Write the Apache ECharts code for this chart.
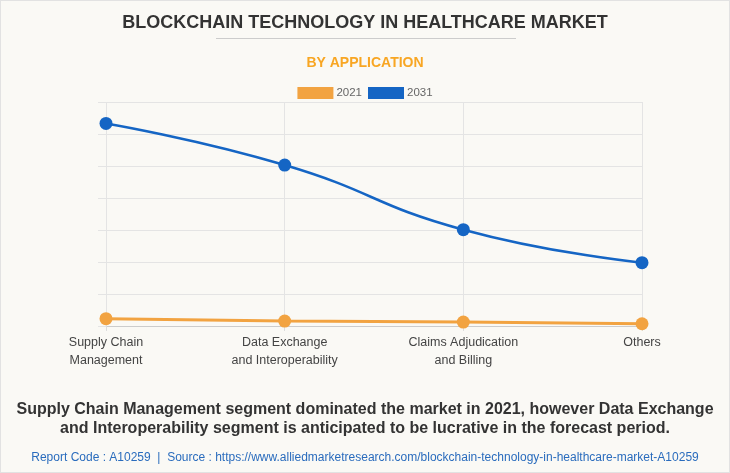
<!DOCTYPE html>
<html>
<head>
<meta charset="utf-8">
<script src="https://cdn.jsdelivr.net/npm/echarts@6/dist/echarts.min.js"></script>
<style>
html,body{margin:0;padding:0;background:#faf9f5;}
#c{width:730px;height:473px;box-sizing:border-box;border:1px solid #e2e2e2;}
</style>
</head>
<body>
<div id="c"></div>
<script>
const categories = ["Supply Chain\nManagement", "Data Exchange\nand Interoperability", "Claims Adjudication\nand Billing", "Others"];
const values2021 = [230, 155, 124, 70];
const values2031 = [6330, 5030, 3010, 1980];
const seriesNames = ["2021", "2031"];

const chart = echarts.init(document.getElementById('c'), null, {renderer: 'canvas'});
const F = 'Arial, "Liberation Sans", sans-serif';
chart.setOption({
  backgroundColor: '#faf9f5',
  animation: false,
  title: [
    {text: 'BLOCKCHAIN TECHNOLOGY IN HEALTHCARE MARKET', left: 'center', top: 8,
     textStyle: {fontFamily: F, fontSize: 18, fontWeight: 'bold', color: '#333333'}},
    {text: 'BY APPLICATION', left: 'center', top: 50,
     textStyle: {fontFamily: F, fontSize: 14, fontWeight: 'bold', color: '#f8a623'}},
    {text: 'Supply Chain Management segment dominated the market in 2021, however Data Exchange\nand Interoperability segment is anticipated to be lucrative in the forecast period.',
     left: 'center', top: 394,
     textStyle: {fontFamily: F, fontSize: 16, fontWeight: 'bold', color: '#333333', lineHeight: 19, align: 'center'}},
    {text: 'Report Code : A10259  |  Source : https://www.alliedmarketresearch.com/blockchain-technology-in-healthcare-market-A10259',
     left: 'center', top: 446,
     textStyle: {fontFamily: F, fontSize: 12, fontWeight: 'normal', color: '#2a6cbd'}}
  ],
  graphic: [
    {type: 'line', shape: {x1: 215, y1: 37.5, x2: 515, y2: 37.5}, style: {stroke: '#cccccc', lineWidth: 1}}
  ],
  legend: {
    top: 81, left: 'center', itemWidth: 36, itemHeight: 12, itemGap: 6,
    data: seriesNames.map(n => ({name: n, icon: 'rect'})),
    textStyle: {fontFamily: F, fontSize: 11.5, color: '#666666', padding: [0, 0, 0, -2]}
  },
  grid: {left: 105, right: 87, top: 101, bottom: 146, containLabel: false},
  xAxis: {
    type: 'category', data: categories, boundaryGap: false,
    axisLine: {lineStyle: {color: '#cccccc'}},
    axisTick: {show: true, length: 5, lineStyle: {color: '#dddddd'}},
    splitLine: {show: true, lineStyle: {color: '#e4e4e4'}},
    axisLabel: {fontFamily: F, fontSize: 12.5, color: '#444444', lineHeight: 18, margin: 8, interval: 0}
  },
  yAxis: {
    type: 'value', min: 0, max: 7000, interval: 1000,
    axisLabel: {show: false},
    axisLine: {show: false},
    axisTick: {show: true, length: 8, lineStyle: {color: '#e4e4e4'}},
    splitLine: {lineStyle: {color: '#e4e4e4'}}
  },
  series: [
    {name: seriesNames[0], type: 'line', data: values2021, smooth: true, symbol: 'circle', symbolSize: 13,
     itemStyle: {color: '#f2a341'}, lineStyle: {width: 3, color: '#f2a341'}},
    {name: seriesNames[1], type: 'line', data: values2031, smooth: true, symbol: 'circle', symbolSize: 13,
     itemStyle: {color: '#1565c4'}, lineStyle: {width: 2.5, color: '#1565c4'}}
  ]
});
</script>
</body>
</html>
